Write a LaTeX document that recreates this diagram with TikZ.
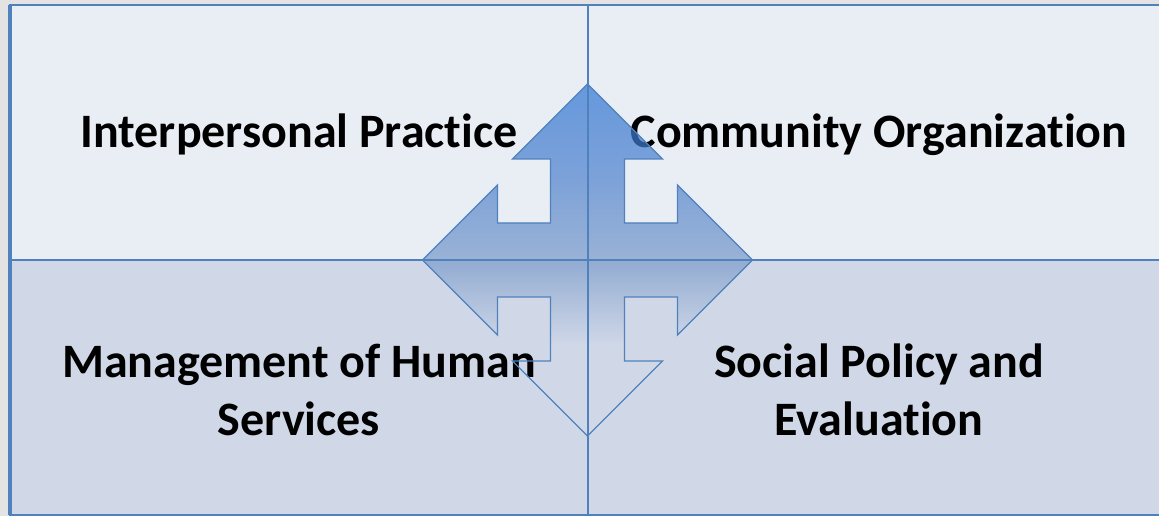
\documentclass[tikz,border=0pt]{standalone}
\usepackage{fontspec}
\setmainfont{Carlito}[Ligatures={NoCommon}]
\definecolor{bgout}{HTML}{E3E3E3}
\definecolor{celltop}{HTML}{E9EDF4}
\definecolor{cellbot}{HTML}{D0D8E8}
\definecolor{gridblue}{HTML}{4F81BD}
\definecolor{arA}{HTML}{7899C9}
\definecolor{arB}{HTML}{4C81CE}
\definecolor{arC}{HTML}{2E75D3}
\pgfdeclareverticalshading{arrowshade}{100bp}{%
  color(0bp)=(cellbot);
  color(25bp)=(cellbot);
  color(38bp)=(cellbot);
  color(50bp)=(arA);
  color(62.5bp)=(arB);
  color(75bp)=(arC);
  color(100bp)=(arC)}
\tikzset{
  cellbox/.style={draw=gridblue, line width=2pt, inner sep=0pt, outer sep=0pt},
  label/.style={font=\bfseries\fontsize{36}{44}\selectfont, text=black, inner sep=0pt},
  label2/.style={font=\bfseries\fontsize{36}{43}\selectfont, text=black, align=center, inner sep=0pt},
}
\begin{document}
\begin{tikzpicture}[x=0.75pt, y=-0.75pt]
\useasboundingbox (0,0) rectangle (1159,516);
\fill[bgout] (0,0) rectangle (1159,516);
\begin{scope}
\clip (0,0) rectangle (1159,516);
% cells
\node[cellbox, fill=celltop, minimum width=578*0.75pt, minimum height=255*0.75pt, anchor=north west] (tl) at (10,5) {};
\node[cellbox, fill=celltop, minimum width=582*0.75pt, minimum height=255*0.75pt, anchor=north west] (tr) at (588,5) {};
\node[cellbox, fill=cellbot, minimum width=578*0.75pt, minimum height=255*0.75pt, anchor=north west] (bl) at (10,260) {};
\node[cellbox, fill=cellbot, minimum width=582*0.75pt, minimum height=255*0.75pt, anchor=north west] (br) at (588,260) {};
\draw[gridblue, line width=3pt] (tl.north west) -- (bl.south west);
\draw[gridblue, line width=2pt] (tl.north west) -- (tr.north east);
% top labels (under the arrow)
\node[label, anchor=base] (ip) at (299,148) {Interpersonal Practice};
\node[label, anchor=base] (co) at (879,148) {Community Organization};
% arrow
\coordinate (c) at (587.5,260);
\def\arrowpath{(c)
  ++(0,-176) -- ++(75,75) -- ++(-38,0) -- ++(0,64) -- ++(53,0) -- ++(0,-38)
  -- ++(75,75) -- ++(-75,75) -- ++(0,-38) -- ++(-53,0) -- ++(0,64) -- ++(38,0)
  -- ++(-75,75) -- ++(-75,-75) -- ++(38,0) -- ++(0,-64) -- ++(-53,0) -- ++(0,38)
  -- ++(-75,-75) -- ++(75,-75) -- ++(0,38) -- ++(53,0) -- ++(0,-64) -- ++(-38,0) -- cycle}
\shade[shading=arrowshade, fill opacity=0.7] \arrowpath;
% bottom labels (arrow is transparent there)
\node[label2] (mh) at (299,390) {Management of Human\\Services};
\node[label2] (sp) at (879,390) {Social Policy and\\Evaluation};
\draw[gridblue, line width=1.4pt] (tl.north east) -- (bl.south east);
\draw[gridblue, line width=1.4pt] (tl.south west) -- (tr.south east);
\draw[gridblue, line width=1pt, line join=miter] \arrowpath;
\end{scope}
\end{tikzpicture}
\end{document}
